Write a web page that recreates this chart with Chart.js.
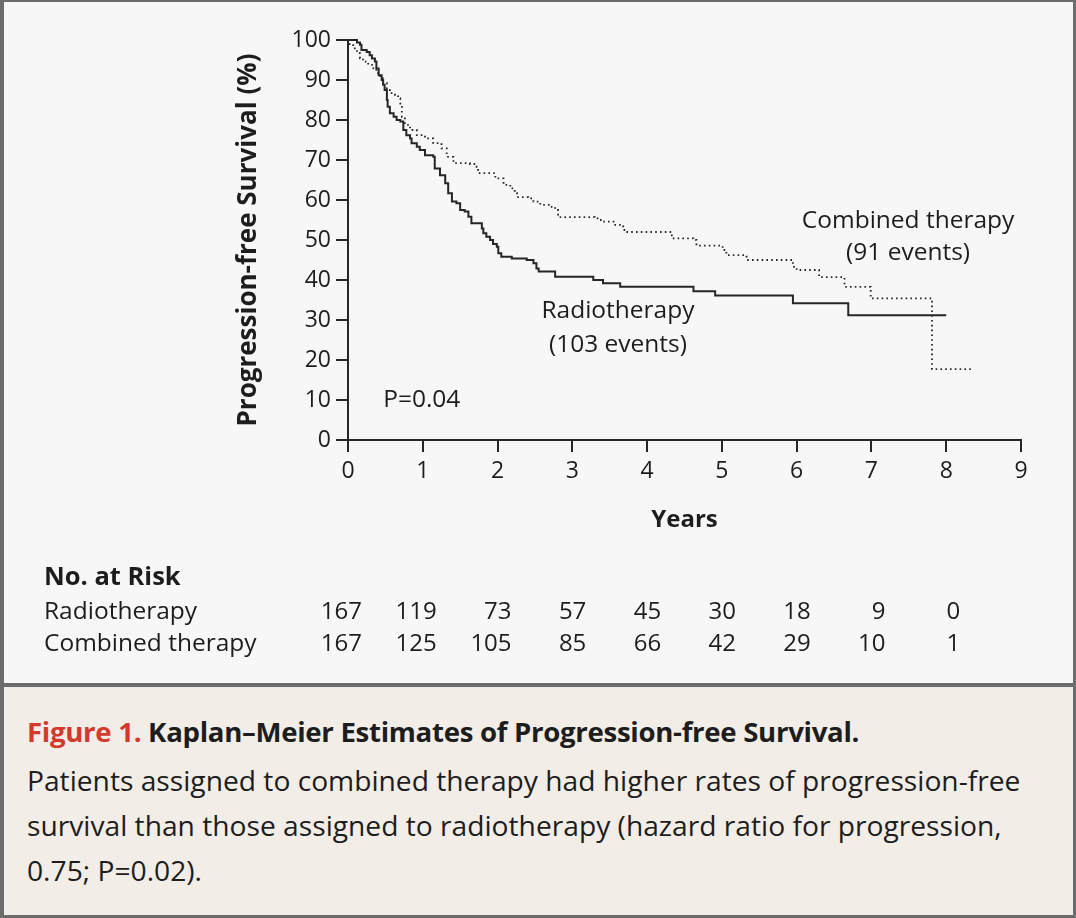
<!DOCTYPE html>
<html>
<head>
<meta charset="utf-8">
<script src="https://cdn.jsdelivr.net/npm/chart.js@4.4.1/dist/chart.umd.min.js"></script>
<style>
    html, body { margin: 0; padding: 0; background: #f7f7f7; }
    body { width: 1076px; height: 918px; position: relative; overflow: hidden; font-family: 'Open Sans', sans-serif; }
    #panel {
        position: absolute; left: 0; top: 0; width: 1076px; height: 687px; box-sizing: border-box;
        background: #f7f7f7; border: 3px solid #6c6c6c; border-top-width: 2px; border-left-width: 4px; border-bottom-width: 4px;
    }
    #chart { position: absolute; left: 0; top: 0; }
    #caption {
        position: absolute; left: 0; top: 687px; width: 1076px; height: 231px; box-sizing: border-box;
        background: #f2ede7; border: 3px solid #6c6c6c; border-top: none; border-left-width: 4px;
        padding: 22px 0 0 23px; color: #1d1d1d;
    }
    #caption .title { font-size: 27.6px; font-weight: 700; line-height: 45px; letter-spacing: -0.3px; }
    #caption .title span { color: #d33a2c; }
    #caption .body { font-size: 28.2px; line-height: 45px; margin-top: 4px; white-space: nowrap; }
</style>
</head>
<body>
<div id="panel"></div>
<canvas id="chart" width="1076" height="683"></canvas>
<div id="caption">
    <div class="title"><span>Figure 1.</span> Kaplan–Meier Estimates of Progression-free Survival.</div>
    <div class="body">Patients assigned to combined therapy had higher rates of progression-free<br>survival than those assigned to radiotherapy (hazard ratio for progression,<br>0.75; P=0.02).</div>
</div>
<script>
// Kaplan-Meier steps (years, % progression-free)
const radioYears = [0, 0.12, 0.16, 0.18, 0.25, 0.29, 0.32, 0.36, 0.38, 0.41, 0.45, 0.47, 0.49, 0.52, 0.53, 0.56,
    0.61, 0.65, 0.70, 0.74, 0.78, 0.83, 0.85, 0.92, 0.96, 1.03, 1.14, 1.16, 1.23, 1.30, 1.34, 1.39, 1.45,
    1.50, 1.56, 1.61, 1.65, 1.79, 1.81, 1.85, 1.90, 1.94, 1.99, 2.01, 2.05, 2.19, 2.39, 2.48, 2.52, 2.55,
    2.77, 3.28, 3.41, 3.64, 4.62, 4.91, 5.95, 6.69, 8.00];
const radioSurv = [100, 99.4, 98.8, 97.5, 97.0, 96.2, 95.4, 94.6, 92.9, 91.2, 90.0, 88.8, 87.5, 85.0, 83.3, 81.7,
    80.8, 80.0, 79.6, 77.5, 76.2, 75.4, 74.2, 73.3, 72.5, 71.2, 70.8, 67.9, 66.2, 64.2, 61.7, 59.6, 59.2,
    57.5, 57.1, 55.8, 54.2, 52.9, 51.7, 50.8, 50.0, 49.0, 48.3, 46.7, 45.8, 45.4, 45.0, 44.2, 42.9, 42.1,
    40.8, 40.0, 39.2, 38.3, 37.2, 36.1, 34.2, 31.2, 31.2];

const combYears = [0, 0.02, 0.07, 0.12, 0.16, 0.20, 0.27, 0.34, 0.38, 0.43, 0.47, 0.52, 0.56, 0.63, 0.67, 0.70,
    0.72, 0.76, 0.83, 0.92, 1.03, 1.14, 1.25, 1.32, 1.41, 1.63, 1.72, 1.74, 1.97, 2.08, 2.17, 2.23, 2.26,
    2.41, 2.48, 2.57, 2.70, 2.77, 2.81, 3.30, 3.35, 3.41, 3.55, 3.68, 3.72, 4.33, 4.62, 4.66, 5.01, 5.06,
    5.33, 5.95, 6.00, 6.30, 6.64, 6.99, 7.81, 8.34];
const combSurv = [100, 99.0, 97.9, 96.7, 95.4, 94.6, 93.8, 92.9, 91.7, 90.4, 89.2, 87.9, 86.7, 86.2, 85.4, 83.3,
    80.8, 78.8, 77.5, 76.2, 75.4, 74.2, 72.9, 70.8, 69.2, 69.0, 68.3, 66.7, 65.4, 63.8, 62.9, 61.7, 60.7,
    60.4, 59.6, 58.8, 58.3, 57.5, 55.7, 55.4, 55.0, 54.6, 53.8, 52.5, 52.0, 50.4, 50.0, 48.6, 47.5, 46.2,
    45.0, 43.3, 42.5, 40.7, 38.3, 35.4, 17.7, 17.7];

// number at risk
const riskYears = [0, 1, 2, 3, 4, 5, 6, 7, 8];
const radioRisk = [167, 119, 73, 57, 45, 30, 18, 9, 0];
const combRisk = [167, 125, 105, 85, 66, 42, 29, 10, 1];

const seriesNames = ['Radiotherapy', 'Combined therapy'];
const seriesEvents = ['(103 events)', '(91 events)'];

const FONT = "'Open Sans', sans-serif";
const INK = '#262626';

const toPoints = (xs, ys) => xs.map((x, i) => ({ x, y: ys[i] }));

// extra text: labels on curves, P value, number-at-risk table
const textPlugin = {
    id: 'kmText',
    afterDraw(chart) {
        const { ctx, scales: { x, y } } = chart;
        ctx.save();
        ctx.fillStyle = '#1d1d1d';

        // curve labels
        ctx.font = `24.5px ${FONT}`;
        ctx.textAlign = 'center';
        ctx.textBaseline = 'middle';
        ctx.fillText(seriesNames[1], x.getPixelForValue(7.49), y.getPixelForValue(54.8));
        ctx.fillText(seriesEvents[1], x.getPixelForValue(7.49), y.getPixelForValue(46.8));
        ctx.fillText(seriesNames[0], x.getPixelForValue(3.61), y.getPixelForValue(32.3));
        ctx.fillText(seriesEvents[0], x.getPixelForValue(3.61), y.getPixelForValue(23.8));

        ctx.textAlign = 'left';
        ctx.fillText('P=0.04', x.getPixelForValue(0.47), y.getPixelForValue(10));

        // No. at Risk
        ctx.textBaseline = 'alphabetic';
        ctx.font = `bold 25.5px ${FONT}`;
        ctx.fillText('No. at Risk', 44, 585);
        ctx.font = `24.5px ${FONT}`;
        ctx.fillText(seriesNames[0], 44, 619);
        ctx.fillText(seriesNames[1], 44, 651);
        ctx.textAlign = 'right';
        ctx.font = `24px ${FONT}`;
        riskYears.forEach((yr, i) => {
            const px = x.getPixelForValue(yr) + 14;
            ctx.fillText(String(radioRisk[i]), px, 619);
            ctx.fillText(String(combRisk[i]), px, 651);
        });
        ctx.restore();
    }
};

new Chart(document.getElementById('chart'), {
    type: 'line',
    data: {
        datasets: [
            {
                label: seriesNames[0],
                data: toPoints(radioYears, radioSurv),
                borderColor: INK, borderWidth: 2,
                stepped: 'before', pointRadius: 0, fill: false, clip: 6
            },
            {
                label: seriesNames[1],
                data: toPoints(combYears, combSurv),
                borderColor: INK, borderWidth: 1.8, borderDash: [1.6, 3.2],
                stepped: 'before', pointRadius: 0, fill: false, clip: 6
            }
        ]
    },
    options: {
        responsive: false,
        animation: false,
        devicePixelRatio: 1,
        layout: { padding: { left: 229, right: 55, top: 40, bottom: 144 } },
        plugins: { legend: { display: false }, tooltip: { enabled: false } },
        scales: {
            x: {
                type: 'linear', min: 0, max: 9,
                ticks: { stepSize: 1, color: '#1d1d1d', padding: 6, font: { family: FONT, size: 23 } },
                grid: { drawOnChartArea: false, drawTicks: true, tickLength: 12, color: INK, lineWidth: 2 },
                border: { display: true, color: INK, width: 2 },
                title: { display: true, text: 'Years', color: '#1d1d1d', padding: 4,
                    font: { family: FONT, size: 24, weight: 'bold' } },
                afterFit: (scale) => { scale.height = 99; }
            },
            y: {
                type: 'linear', min: 0, max: 100,
                ticks: { stepSize: 10, color: '#1d1d1d', padding: 5, font: { family: FONT, size: 23 } },
                grid: { drawOnChartArea: false, drawTicks: true, tickLength: 12, color: INK, lineWidth: 2 },
                border: { display: true, color: INK, width: 2 },
                title: { display: true, text: 'Progression-free Survival (%)', color: '#1d1d1d', padding: 4,
                    font: { family: FONT, size: 26, weight: 'bold' } },
                afterFit: (scale) => { scale.width = 119; }
            }
        }
    },
    plugins: [textPlugin]
});
</script>
</body>
</html>
